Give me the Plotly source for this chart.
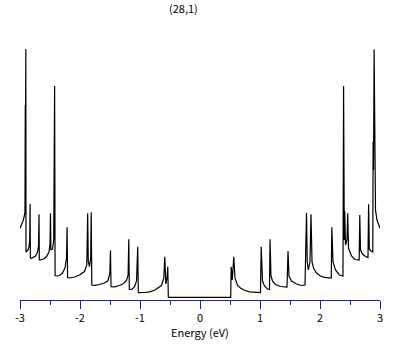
import plotly.graph_objects as go

# Density of states of the (28,1) nanotube (arbitrary DOS units)
valence_energy = [
    -3.000, -2.975, -2.950, -2.928, -2.917, -2.912, -2.908, -2.903, -2.900, -2.883,
    -2.867, -2.850, -2.838, -2.832, -2.827, -2.808, -2.775, -2.742, -2.708, -2.692,
    -2.683, -2.678, -2.658, -2.608, -2.558, -2.517, -2.500, -2.492, -2.485, -2.458,
    -2.438, -2.433, -2.423, -2.415, -2.392, -2.342, -2.292, -2.250, -2.225, -2.215,
    -2.207, -2.175, -2.092, -2.008, -1.925, -1.887, -1.872, -1.862, -1.842, -1.822,
    -1.813, -1.803, -1.758, -1.675, -1.592, -1.537, -1.503, -1.492, -1.483, -1.425,
    -1.342, -1.275, -1.225, -1.198, -1.187, -1.178, -1.142, -1.092, -1.058, -1.038,
    -1.028, -0.925, -0.842, -0.758, -0.692, -0.642, -0.603, -0.587, -0.570, -0.550,
    -0.537, -0.528,
]
valence_dos = [
    0.717, 0.750, 0.790, 0.840, 0.880, 1.950, 1.600, 2.510, 0.480, 0.490,
    0.500, 0.530, 0.600, 0.960, 0.420, 0.417, 0.425, 0.440, 0.480, 0.540,
    0.857, 0.400, 0.400, 0.410, 0.435, 0.480, 0.560, 0.867, 0.500, 0.510,
    0.600, 0.880, 2.140, 0.245, 0.240, 0.245, 0.270, 0.320, 0.420, 0.727,
    0.225, 0.220, 0.230, 0.250, 0.285, 0.350, 0.867, 0.380, 0.333, 0.420,
    0.877, 0.150, 0.147, 0.155, 0.170, 0.190, 0.260, 0.495, 0.133, 0.132,
    0.145, 0.165, 0.195, 0.250, 0.607, 0.105, 0.105, 0.130, 0.190, 0.533,
    0.073, 0.075, 0.082, 0.097, 0.120, 0.145, 0.220, 0.433, 0.160, 0.220,
    0.333, 0.027,
]
metallic_energy = [0.512]
metallic_dos = [0.027]
conduction_energy = [
    0.520, 0.538, 0.563, 0.583, 0.625, 0.675, 0.742, 0.825, 0.908, 1.008,
    1.020, 1.042, 1.075, 1.125, 1.158, 1.167, 1.183, 1.208, 1.258, 1.342,
    1.450, 1.467, 1.483, 1.525, 1.608, 1.692, 1.750, 1.763, 1.775, 1.787,
    1.805, 1.833, 1.850, 1.867, 1.892, 1.942, 2.008, 2.075, 2.188, 2.197,
    2.217, 2.258, 2.325, 2.383, 2.393, 2.405, 2.412, 2.425, 2.450, 2.462,
    2.475, 2.525, 2.583, 2.653, 2.663, 2.675, 2.708, 2.758, 2.800, 2.810,
    2.822, 2.850, 2.880, 2.885, 2.892, 2.902, 2.912, 2.925, 2.950, 2.975,
    3.000,
]
conduction_dos = [
    0.333, 0.200, 0.433, 0.220, 0.145, 0.120, 0.097, 0.082, 0.075, 0.073,
    0.533, 0.190, 0.140, 0.110, 0.105, 0.607, 0.240, 0.190, 0.155, 0.135,
    0.130, 0.490, 0.240, 0.190, 0.160, 0.145, 0.150, 0.510, 0.873, 0.380,
    0.300, 0.380, 0.857, 0.380, 0.320, 0.270, 0.240, 0.227, 0.220, 0.727,
    0.380, 0.300, 0.250, 0.240, 2.140, 0.600, 0.890, 0.550, 0.600, 0.867,
    0.517, 0.440, 0.405, 0.400, 0.850, 0.500, 0.460, 0.435, 0.425, 0.957,
    0.510, 0.490, 0.480, 1.580, 1.300, 2.507, 1.000, 0.900, 0.800, 0.750,
    0.717,
]

tick_values = [-3, -2, -1, 0, 1, 2, 3]
tick_labels = ["-3", "-2", "-1", "0", "1", "2", "3"]
title_text = "(28,1)"
x_label = "Energy (eV)"

energy = valence_energy + metallic_energy + conduction_energy
dos = valence_dos + metallic_dos + conduction_dos

axis_blue = "#1c1cc8"
font_family = "Noto Sans CJK JP, Liberation Sans, sans-serif"

fig = go.Figure()
fig.add_trace(go.Scatter(
    x=energy, y=dos, mode="lines",
    line=dict(color="black", width=1.2),
    hoverinfo="skip", showlegend=False,
))

fig.update_layout(
    width=409, height=345,
    margin=dict(l=20, r=29, t=40, b=45),
    paper_bgcolor="white", plot_bgcolor="white",
    font=dict(family=font_family, size=11, color="black"),
    xaxis=dict(
        range=[-3, 3], showgrid=False, zeroline=False,
        showline=True, linecolor=axis_blue, linewidth=1,
        ticks="outside", ticklen=8, tickwidth=1, tickcolor=axis_blue,
        tickvals=tick_values, ticktext=tick_labels,
        tickfont=dict(size=11, color="black"),
        minor=dict(dtick=0.5, ticks="outside", ticklen=4, tickwidth=1, tickcolor=axis_blue, showgrid=False),
    ),
    yaxis=dict(range=[0, 2.6], visible=False),
    annotations=[
        dict(text=title_text, x=0.454, y=1.123, xref="paper", yref="paper",
             showarrow=False, xanchor="center", yanchor="middle", font=dict(size=11)),
        dict(text=x_label, x=0.5, y=-0.122, xref="paper", yref="paper",
             showarrow=False, xanchor="center", yanchor="middle", font=dict(size=11)),
    ],
)

# remove the default page margin so the figure sits at the window's top-left corner
fig.write_html(
    "out.html",
    config={"displayModeBar": False, "staticPlot": True},
    post_script="document.body.style.margin='0';document.body.style.overflow='hidden';",
)
